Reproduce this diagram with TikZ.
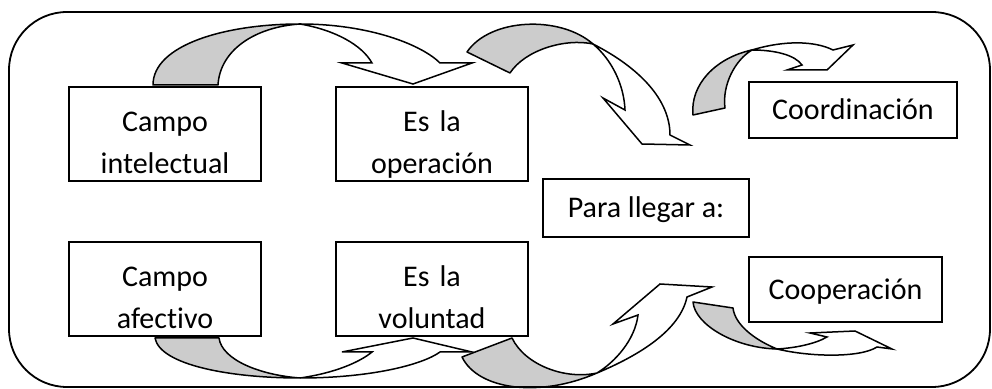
\documentclass[tikz,border=0pt]{standalone}
\usepackage{fontspec}
\setmainfont{Carlito}[Ligatures=NoCommon]
\usetikzlibrary{positioning}
\definecolor{arrowgray}{gray}{0.8}
\tikzset{dbox/.style={draw, line width=0.9pt, outer sep=0pt, inner sep=0pt, minimum height=47pt, text width=96pt, align=center, text height=20pt, text depth=22pt, font=\fontsize{15pt}{21pt}\selectfont}}
\tikzset{dbox1/.style={draw, line width=0.9pt, outer sep=0pt, inner sep=0pt, align=center, text height=12pt, text depth=2pt, font=\fontsize{15pt}{21pt}\selectfont}}
\tikzset{barr/.style={draw, fill=arrowgray, line width=0.75pt, line join=round}}
\tikzset{farr/.style={draw, fill=white, line width=0.75pt}}

\begin{document}
\begin{tikzpicture}[x=0.5pt, y=-0.5pt]
	\useasboundingbox (0,0) rectangle (992,389);
	% the four fields
	\node[dbox] (CI) at (165,134) {Campo\\intelectual};
	\node[dbox, right=37.5pt of CI] (OP) {Es la\\operación};
	\node[dbox, below=30.5pt of CI] (CA) {Campo\\afectivo};
	\node[dbox, right=37.5pt of CA] (VO) {Es la\\voluntad};
	% goals
	\node[dbox1, minimum width=103pt, minimum height=29pt] (PL) at (646,208) {Para llegar a:};
	\node[dbox1, minimum width=104pt, minimum height=28pt] (CO) at (853,110) {Coordinación};
	\node[dbox1, minimum width=96.5pt, minimum height=32.5pt] (CP) at (845.5,289.5) {Cooperación};

	% intelectual -> operacion
	\draw[barr] (153,85) .. controls (153,45) and (225,24) .. (300,24)
		.. controls (255,27) and (220,50) .. (218,85) -- cycle;
	\draw[farr] (300,24) .. controls (370,24) and (422,45) .. (440,63)
		-- (472,63) -- (413,84) -- (342,63) -- (372,63)
		.. controls (362,45) and (335,30) .. (300,24) -- cycle;
	% operacion -> para llegar
	\draw[barr] (467,52) .. controls (490,18) and (560,15) .. (593,44)
		.. controls (565,38) and (525,50) .. (510,73) -- cycle;
	\draw[farr] (593,44) .. controls (640,68) and (670,100) .. (670,135)
		-- (690,145) -- (642,144) -- (603,98) -- (625,110)
		.. controls (624,85) and (612,60) .. (593,44) -- cycle;
	% towards coordinacion
	\draw[barr] (693,115) .. controls (690,85) and (715,58) .. (752,50)
		.. controls (735,60) and (722,85) .. (725,108) -- cycle;
	\draw[farr] (752,50) .. controls (785,40) and (815,41) .. (833,50)
		-- (853,45) -- (827,70) -- (787,70) -- (802,65)
		.. controls (795,55) and (775,50) .. (752,50) -- cycle;
	% afectivo -> voluntad
	\draw[barr] (155,338) .. controls (160,365) and (230,378) .. (300,378)
		.. controls (260,375) and (222,360) .. (219,338) -- cycle;
	\draw[farr] (300,378) .. controls (370,378) and (422,365) .. (440,352)
		-- (472,352) -- (413,338) -- (342,352) -- (372,352)
		.. controls (360,362) and (335,373) .. (300,378) -- cycle;
	% voluntad -> para llegar
	\draw[barr] (462,357) .. controls (478,390) and (540,398) .. (597,373)
		.. controls (565,380) and (525,365) .. (512,338) -- cycle;
	\draw[farr] (597,373) .. controls (640,355) and (680,330) .. (687,297)
		-- (712,287) -- (660,284) -- (613,324) -- (638,315)
		.. controls (635,340) and (615,362) .. (597,373) -- cycle;
	% towards cooperacion
	\draw[barr] (693,302) .. controls (695,325) and (735,348) .. (777,349)
		.. controls (755,340) and (735,325) .. (733,308) -- cycle;
	\draw[farr] (777,349) .. controls (810,357) and (860,358) .. (877,347)
		-- (892,349) -- (855,331) -- (810,333) -- (827,337)
		.. controls (815,344) and (795,348) .. (777,349) -- cycle;

	% frame
	\draw[line width=0.9pt, rounded corners=29pt] (9,12) rectangle (990,387);
\end{tikzpicture}
\end{document}
